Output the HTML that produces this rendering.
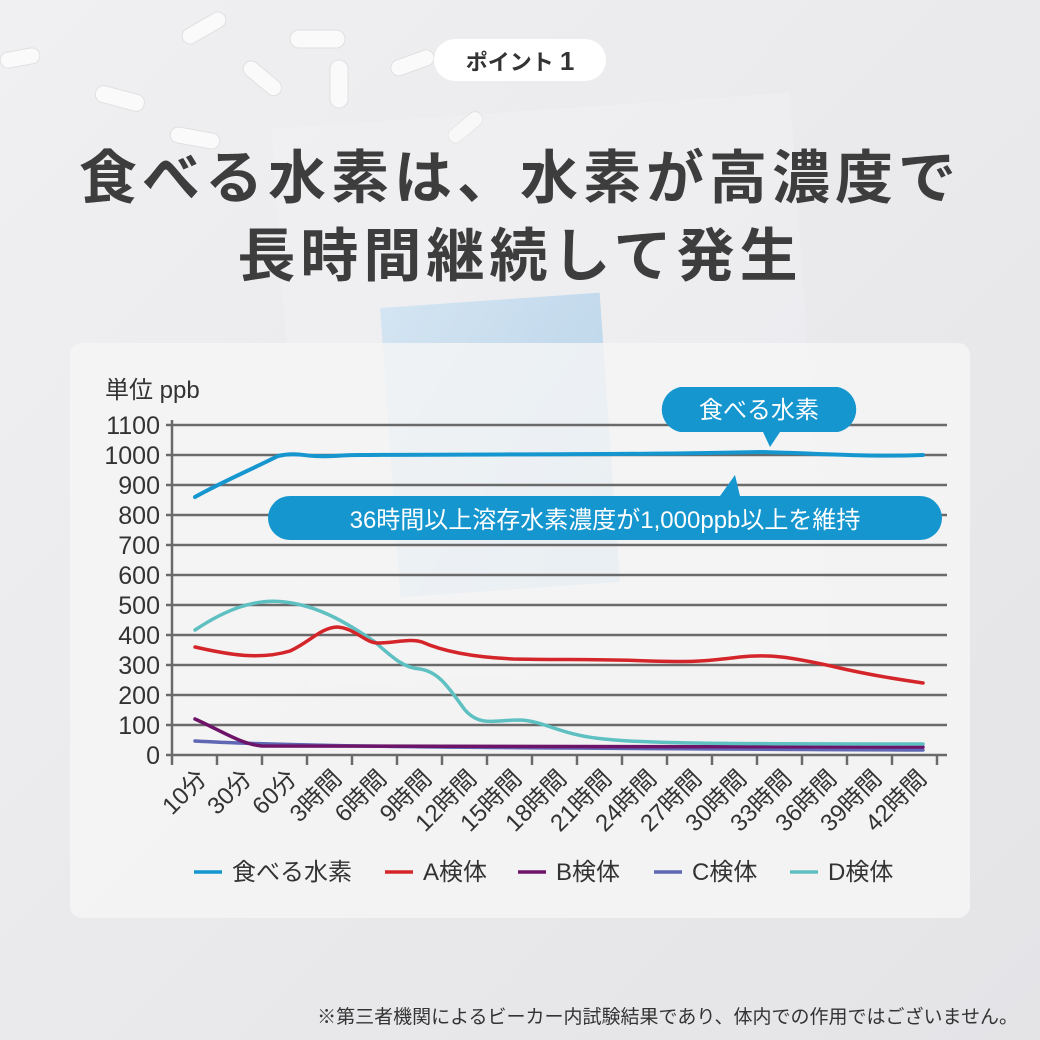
<!DOCTYPE html>
<html><head><meta charset="utf-8"><style>
body{margin:0;width:1040px;height:1040px;overflow:hidden;background:#ebebed;font-family:"Liberation Sans","Noto Sans CJK JP",sans-serif}
</style></head><body>
<svg width="1040" height="1040" viewBox="0 0 1040 1040" xmlns="http://www.w3.org/2000/svg" style="position:absolute;left:0;top:0">
<defs>
<linearGradient id="bg" x1="0" y1="0" x2="1" y2="1"><stop offset="0" stop-color="#f0f0f2"/><stop offset="1" stop-color="#e4e4e7"/></linearGradient>
<linearGradient id="pouch" x1="0" y1="0" x2="1" y2="1"><stop offset="0" stop-color="#cfe3f2"/><stop offset="1" stop-color="#a9cbe6"/></linearGradient>
</defs>
<rect width="1040" height="1040" fill="url(#bg)"/>
<g fill="#fafafa" stroke="#e0e0e0" stroke-width="1">
<rect x="0" y="50" width="40" height="16" rx="8" transform="rotate(-10 20 58)"/>
<rect x="95" y="90" width="50" height="17" rx="8" transform="rotate(15 120 98)"/>
<rect x="180" y="20" width="48" height="16" rx="8" transform="rotate(-30 204 28)"/>
<rect x="290" y="30" width="55" height="18" rx="9"/>
<rect x="330" y="60" width="18" height="48" rx="9"/>
<rect x="240" y="70" width="45" height="16" rx="8" transform="rotate(40 262 78)"/>
<rect x="390" y="55" width="45" height="16" rx="8" transform="rotate(-20 412 63)"/>
<rect x="170" y="130" width="50" height="16" rx="8" transform="rotate(10 195 138)"/>
<rect x="445" y="120" width="40" height="15" rx="7" transform="rotate(-40 465 127)"/>
</g>
<rect x="290" y="110" width="520" height="560" fill="#f6f6f7" opacity="0.3" transform="rotate(-4 550 390)"/>
<rect x="390" y="300" width="220" height="290" fill="url(#pouch)" opacity="0.85" transform="rotate(-4 500 445)"/>
<rect x="434" y="39" width="172" height="42" rx="21" fill="#fff"/>
<text x="520" y="70" text-anchor="middle" font-size="22" font-weight="bold" fill="#333">ポイント <tspan font-size="26">1</tspan></text>
<text x="520" y="198" text-anchor="middle" font-size="58" font-weight="bold" fill="#3d3d3d" letter-spacing="5">食べる水素は、水素が高濃度で</text>
<text x="520" y="276" text-anchor="middle" font-size="58" font-weight="bold" fill="#3d3d3d" letter-spacing="5">長時間継続して発生</text>
<rect x="70" y="343" width="900" height="575" rx="12" fill="#f5f5f5" opacity="0.82"/>
<text x="105" y="398" font-size="24" fill="#333">単位 ppb</text>
<g stroke="#6a6a6a" stroke-width="2.5">
<line x1="166" y1="425" x2="947" y2="425"/><line x1="166" y1="455" x2="947" y2="455"/><line x1="166" y1="485" x2="947" y2="485"/><line x1="166" y1="515" x2="947" y2="515"/><line x1="166" y1="545" x2="947" y2="545"/><line x1="166" y1="575" x2="947" y2="575"/><line x1="166" y1="605" x2="947" y2="605"/><line x1="166" y1="635" x2="947" y2="635"/><line x1="166" y1="665" x2="947" y2="665"/><line x1="166" y1="695" x2="947" y2="695"/><line x1="166" y1="725" x2="947" y2="725"/><line x1="166" y1="755" x2="947" y2="755"/>
<line x1="172" y1="420" x2="172" y2="765"/>
<line x1="217" y1="755" x2="217" y2="765"/><line x1="262" y1="755" x2="262" y2="765"/><line x1="307" y1="755" x2="307" y2="765"/><line x1="352" y1="755" x2="352" y2="765"/><line x1="397" y1="755" x2="397" y2="765"/><line x1="442" y1="755" x2="442" y2="765"/><line x1="487" y1="755" x2="487" y2="765"/><line x1="532" y1="755" x2="532" y2="765"/><line x1="577" y1="755" x2="577" y2="765"/><line x1="622" y1="755" x2="622" y2="765"/><line x1="667" y1="755" x2="667" y2="765"/><line x1="712" y1="755" x2="712" y2="765"/><line x1="757" y1="755" x2="757" y2="765"/><line x1="802" y1="755" x2="802" y2="765"/><line x1="847" y1="755" x2="847" y2="765"/><line x1="892" y1="755" x2="892" y2="765"/><line x1="937" y1="755" x2="937" y2="765"/>
</g>
<g font-size="25" fill="#333" text-anchor="end">
<text x="160" y="434">1100</text><text x="160" y="464">1000</text><text x="160" y="494">900</text><text x="160" y="524">800</text><text x="160" y="554">700</text><text x="160" y="584">600</text><text x="160" y="614">500</text><text x="160" y="644">400</text><text x="160" y="674">300</text><text x="160" y="704">200</text><text x="160" y="734">100</text><text x="160" y="764">0</text>
</g>
<g font-size="24" fill="#333" text-anchor="end">
<text transform="translate(208,780) rotate(-45)">10分</text>
<text transform="translate(253,780) rotate(-45)">30分</text>
<text transform="translate(298,780) rotate(-45)">60分</text>
<text transform="translate(343,780) rotate(-45)">3時間</text>
<text transform="translate(388,780) rotate(-45)">6時間</text>
<text transform="translate(433,780) rotate(-45)">9時間</text>
<text transform="translate(478,780) rotate(-45)">12時間</text>
<text transform="translate(523,780) rotate(-45)">15時間</text>
<text transform="translate(568,780) rotate(-45)">18時間</text>
<text transform="translate(613,780) rotate(-45)">21時間</text>
<text transform="translate(658,780) rotate(-45)">24時間</text>
<text transform="translate(703,780) rotate(-45)">27時間</text>
<text transform="translate(748,780) rotate(-45)">30時間</text>
<text transform="translate(793,780) rotate(-45)">33時間</text>
<text transform="translate(838,780) rotate(-45)">36時間</text>
<text transform="translate(883,780) rotate(-45)">39時間</text>
<text transform="translate(928,780) rotate(-45)">42時間</text>
</g>
<g fill="none" stroke-linecap="round" stroke-linejoin="round" stroke-width="3.5">
<path stroke="#5f67b4" d="M195,741 C300,747 500,748 923,750"/>
<path stroke="#6d1469" d="M195,719 C220,730 240,744 262,746 C300,747 500,747 923,747"/>
<path stroke="#5fc0c2" d="M195,630 C225,610 255,598 285,602 C320,606 350,625 375,642 C395,660 405,668 420,669 C440,672 450,690 465,710 C480,727 495,720 520,720 C545,721 560,735 604,739 C640,743 700,744 923,744"/>
<path stroke="#d4262a" d="M195,647 C230,655 260,660 290,651 C310,642 320,628 337,627 C355,628 365,643 378,643 C395,643 410,638 422,642 C440,650 470,657 513,659 C560,660 600,659 650,661 C690,662 700,662 740,657 C770,654 790,657 831,666 C860,673 895,679 923,683"/>
<path stroke="#1596cf" stroke-width="4" d="M195,497 C220,483 250,470 278,456 C295,452 305,456 315,456 C330,457 340,455 360,455 C500,454 650,455 760,452 C830,454 870,457 923,455"/>
</g>
<path d="M680,387 H838 A23,23 0 0 1 838,432 H780 L770,447 L763,432 H680 A23,23 0 0 1 680,387 Z" fill="#1596cf"/>
<text x="759" y="418" text-anchor="middle" font-size="24" fill="#fff">食べる水素</text>
<path d="M290,496 H720 L735,475 L740,496 H920 A22,22 0 0 1 920,540 H290 A22,22 0 0 1 290,496 Z" fill="#1596cf"/>
<text x="605" y="528" text-anchor="middle" font-size="24" fill="#fff">36時間以上溶存水素濃度が1,000ppb以上を維持</text>
<g font-size="24" fill="#333">
<line x1="194" y1="872" x2="222" y2="872" stroke="#1596cf" stroke-width="3.5"/><text x="232" y="880">食べる水素</text>
<line x1="385" y1="872" x2="413" y2="872" stroke="#d4262a" stroke-width="3.5"/><text x="423" y="880">A検体</text>
<line x1="518" y1="872" x2="546" y2="872" stroke="#6d1469" stroke-width="3.5"/><text x="556" y="880">B検体</text>
<line x1="654" y1="872" x2="682" y2="872" stroke="#5f67b4" stroke-width="3.5"/><text x="692" y="880">C検体</text>
<line x1="790" y1="872" x2="818" y2="872" stroke="#5fc0c2" stroke-width="3.5"/><text x="828" y="880">D検体</text>
</g>
<text x="1018" y="1023" text-anchor="end" font-size="19" fill="#333">※第三者機関によるビーカー内試験結果であり、体内での作用ではございません。</text>
</svg>
</body></html>
